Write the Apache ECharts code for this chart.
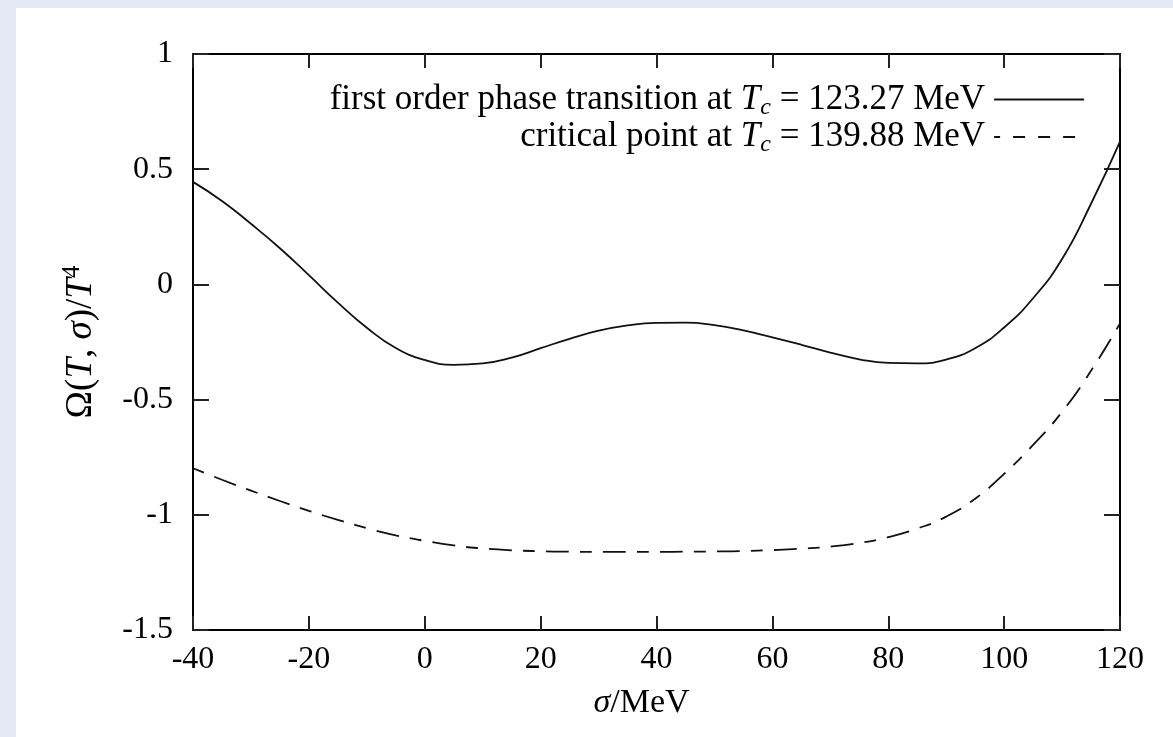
<!DOCTYPE html>
<html>
<head>
<meta charset="utf-8">
<script src="https://cdn.jsdelivr.net/npm/echarts@6/dist/echarts.min.js"></script>
<style>
  html, body { margin: 0; padding: 0; background: #e4e9f4; width: 1173px; height: 737px; overflow: hidden; }
  #chart { position: absolute; left: 16px; top: 8px; width: 1157px; height: 729px; background: #ffffff; }
</style>
</head>
<body>
<div id="chart"></div>
<script>
// ---- data ----
const sigmaValues = [-40,-35,-30,-25,-20,-15,-10,-5,0,5,10,15,20,25,30,35,40,45,50,55,60,65,70,75,80,85,90,95,100,105,110,115,120];
const firstOrderOmega = [0.445,0.362,0.263,0.157,0.040,-0.079,-0.188,-0.276,-0.328,-0.349,-0.343,-0.318,-0.277,-0.236,-0.201,-0.178,-0.167,-0.166,-0.177,-0.200,-0.230,-0.262,-0.296,-0.325,-0.341,-0.343,-0.326,-0.277,-0.187,-0.060,0.110,0.350,0.620];
const criticalOmega = [-0.798,-0.848,-0.895,-0.940,-0.983,-1.022,-1.058,-1.089,-1.113,-1.133,-1.146,-1.154,-1.158,-1.160,-1.161,-1.161,-1.161,-1.160,-1.159,-1.157,-1.153,-1.147,-1.138,-1.122,-1.097,-1.060,-1.008,-0.930,-0.822,-0.697,-0.553,-0.375,-0.169];
const seriesNames = ['first order phase transition at Tc = 123.27 MeV', 'critical point at Tc = 139.88 MeV'];
const legendRich = ['{r|first order phase transition at }{i|T}{s|c}{r| = 123.27 MeV}', '{r|critical point at }{i|T}{s|c}{r| = 139.88 MeV}'];
const xTicks = { min: -40, max: 120, interval: 20 };
const yTicks = { min: -1.5, max: 1, interval: 0.5 };

const FONT = 'Liberation Serif';
const chart = echarts.init(document.getElementById('chart'));
const pair = (xs, ys) => xs.map((x, i) => [x, ys[i]]);

const axisLine = { show: true, onZero: false, lineStyle: { color: '#000', width: 2 } };
const tick = (len) => ({ show: true, inside: true, length: len, lineStyle: { color: '#222', width: 2 } });
const mkRich = (size) => ({
  r: { fontFamily: FONT, fontSize: size, color: '#000' },
  i: { fontFamily: FONT, fontSize: size, fontStyle: 'italic', color: '#000' },
  s: { fontFamily: FONT, fontSize: Math.round(size * 0.68), fontStyle: 'italic', color: '#000', padding: [Math.round(size * 0.45), 0, 0, 0] },
  p: { fontFamily: FONT, fontSize: Math.round(size * 0.68), color: '#000', padding: [0, 0, Math.round(size * 0.45), 0] }
});

chart.setOption({
  animation: false,
  backgroundColor: '#ffffff',
  grid: { left: 177, top: 46, right: 53, bottom: 107, containLabel: false },
  legend: {
    orient: 'vertical',
    right: 83,
    top: 69,
    align: 'right',
    itemWidth: 90,
    itemHeight: 14,
    itemGap: 0,
    selectedMode: false,
    itemStyle: { opacity: 0 },
    data: [
      { name: seriesNames[0], itemStyle: { opacity: 0 }, lineStyle: { type: 'solid', width: 1.8, color: '#111' } },
      { name: seriesNames[1], itemStyle: { opacity: 0 }, lineStyle: { type: [12, 13], dashOffset: 6, width: 1.8, color: '#111' } }
    ],
    formatter: (name) => legendRich[seriesNames.indexOf(name)],
    textStyle: { fontFamily: FONT, fontSize: 35, color: '#000', lineHeight: 34, padding: [0, 4, 0, 0], rich: mkRich(35) }
  },
  xAxis: [
    {
      type: 'value', position: 'bottom', min: xTicks.min, max: xTicks.max, interval: xTicks.interval,
      axisLine, axisTick: tick(14), splitLine: { show: false },
      axisLabel: { fontFamily: FONT, fontSize: 32, color: '#000', margin: 14 },
      name: '{i|σ}{r|/MeV}', nameLocation: 'middle', nameGap: 56,
      nameTextStyle: { rich: mkRich(34), padding: [0, 30, 0, 0] }
    },
    {
      type: 'value', position: 'top', min: xTicks.min, max: xTicks.max, interval: xTicks.interval,
      axisLine, axisTick: tick(14), splitLine: { show: false }, axisLabel: { show: false }
    }
  ],
  yAxis: [
    {
      type: 'value', position: 'left', min: yTicks.min, max: yTicks.max, interval: yTicks.interval,
      axisLine, axisTick: tick(16), splitLine: { show: false },
      axisLabel: { fontFamily: FONT, fontSize: 32, color: '#000', margin: 20, padding: [6, 0, 0, 0] },
      name: '{r|Ω(}{i|T}{r|, }{i|σ}{r|)/}{i|T}{p|4}', nameLocation: 'middle', nameGap: 91, nameRotate: 90,
      nameTextStyle: { rich: mkRich(37) }
    },
    {
      type: 'value', position: 'right', min: yTicks.min, max: yTicks.max, interval: yTicks.interval,
      axisLine, axisTick: tick(16), splitLine: { show: false }, axisLabel: { show: false }
    }
  ],
  series: [
    {
      name: seriesNames[0], type: 'line', data: pair(sigmaValues, firstOrderOmega),
      smooth: 0.5, symbol: 'none', lineStyle: { color: '#111', width: 1.8, type: 'solid' }, itemStyle: { color: '#111' }
    },
    {
      name: seriesNames[1], type: 'line', data: pair(sigmaValues, criticalOmega),
      smooth: 0.5, symbol: 'none', lineStyle: { color: '#111', width: 1.8, type: [12, 11, 23, 11] }, itemStyle: { color: '#111' }
    }
  ]
});
</script>
</body>
</html>
